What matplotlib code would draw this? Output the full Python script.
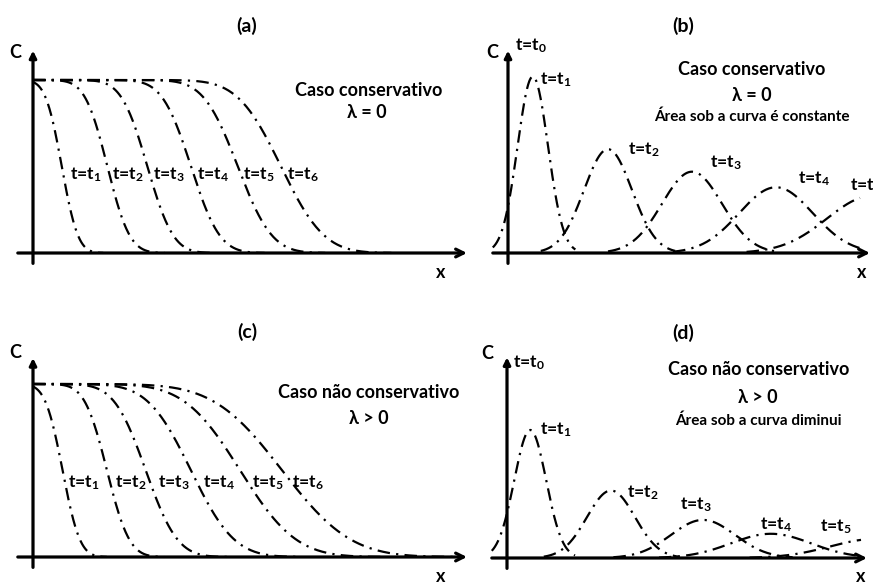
#!/usr/bin/env python3
"""
Concentration profiles C(x) at successive times: step input (a, c) and
pulse input (b, d), conservative (lambda = 0) and non-conservative (lambda > 0).
"""

import math

import numpy as np
import matplotlib.pyplot as plt

# x in units of 40 px of the original drawing, C relative to the inlet value
# (a) step input, conservative: front position and spread of each profile
A_FRONT = [0.72, 1.86, 2.86, 3.95, 5.12, 6.2]
A_SPREAD = [0.45, 0.62, 0.72, 0.80, 0.95, 1.20]
# (c) step input, non-conservative
C_FRONT = [0.74, 1.85, 2.82, 3.95, 5.18, 6.23]
C_SPREAD = [0.48, 0.62, 0.88, 1.20, 1.55, 1.90]
# (b) pulse, conservative: peak position, peak height, spread
B_PEAK_X = [0.62, 2.5, 4.6, 6.7, 9.1]
B_PEAK_C = [1.02, 0.60, 0.47, 0.38, 0.33]
B_SIGMA = [0.38, 0.60, 0.75, 0.92, 1.12]
# (d) pulse, non-conservative
D_PEAK_X = [0.58, 2.6, 4.9, 6.6, 9.2]
D_PEAK_C = [0.74, 0.39, 0.22, 0.14, 0.11]
D_SIGMA = [0.40, 0.60, 0.80, 1.00, 1.12]

STEP_LABELS = ['t=t$_{1}$', 't=t$_{2}$', 't=t$_{3}$', 't=t$_{4}$', 't=t$_{5}$', 't=t$_{6}$']
PULSE_LABELS = ['t=t$_{1}$', 't=t$_{2}$', 't=t$_{3}$', 't=t$_{4}$', 't=t$_{5}$']

# label anchors (left edge, vertical centre)
A_LABEL_X = [0.93, 1.97, 3.0, 4.1, 5.25, 6.35]
A_LABEL_Y = 0.45
C_LABEL_X = [0.88, 2.05, 3.13, 4.25, 5.47, 6.47]
C_LABEL_Y = 0.43
B_LABEL_XY = [(0.8, 1.0), (3.0, 0.6), (5.05, 0.52), (7.25, 0.43), (8.55, 0.39)]
D_LABEL_XY = [(0.83, 0.74), (3.0, 0.38), (4.33, 0.31), (6.33, 0.19), (7.83, 0.18)]

W, H = 873, 585
PX_X, PX_Y = 40.0, 173.0
FONT = 'Lato'

plt.rcParams['font.family'] = [FONT, 'DejaVu Sans']
plt.rcParams['font.weight'] = 'bold'
plt.rcParams['mathtext.fontset'] = 'custom'
plt.rcParams['mathtext.rm'] = 'Lato:bold'
plt.rcParams['mathtext.it'] = 'Lato:bold'
plt.rcParams['mathtext.bf'] = 'Lato:bold'
plt.rcParams['lines.scale_dashes'] = False

DASH = (0, (9, 4.5, 1.6, 4.5))
LABEL_SIZE = 12.5
TEXT_SIZE = 13
NOTE_SIZE = 11
erfc = np.vectorize(math.erfc)


def panel_axes(fig, box, origin):
    """Axes covering a pixel box, with data origin at the given pixel."""
    left, top, right, bottom = box
    ox, oy = origin
    ax = fig.add_axes([left / W, 1 - bottom / H, (right - left) / W, (bottom - top) / H])
    ax.set_xlim((left - ox) / PX_X, (right - ox) / PX_X)
    ax.set_ylim((oy - bottom) / PX_Y, (oy - top) / PX_Y)
    ax.axis('off')
    return ax


def draw_axes(ax, x_end, y_end):
    ax.annotate('', xy=(x_end, 0), xytext=(-0.38, 0),
                arrowprops=dict(arrowstyle='->', lw=2.3, color='black',
                                mutation_scale=14, shrinkA=0, shrinkB=0))
    ax.annotate('', xy=(0, y_end), xytext=(0, -0.06),
                arrowprops=dict(arrowstyle='-|>', lw=2.3, color='black',
                                mutation_scale=10, shrinkA=0, shrinkB=0))


def draw_steps(ax, fronts, spreads):
    for x0, w in zip(fronts, spreads):
        x = np.linspace(0, x0 + 2.3 * w, 300)
        ax.plot(x, 0.5 * erfc((x - x0) / w), color='black', lw=1.6, linestyle=DASH)


def draw_pulses(ax, peaks_x, peaks_c, sigmas, x_max):
    for mu, h, s in zip(peaks_x, peaks_c, sigmas):
        x = np.linspace(max(-0.38, mu - 2.8 * s), min(x_max, mu + 2.8 * s), 300)
        ax.plot(x, h * np.exp(-(x - mu) ** 2 / (2 * s ** 2)),
                color='black', lw=1.6, linestyle=DASH)


def main():
    fig = plt.figure(figsize=(W / 100, H / 100), dpi=100)

    ax_a = panel_axes(fig, (0, 0, 470, 292), (33, 253))
    ax_b = panel_axes(fig, (470, 0, 873, 292), (508, 253))
    ax_c = panel_axes(fig, (0, 292, 470, 585), (33, 557))
    ax_d = panel_axes(fig, (470, 292, 873, 585), (507, 558))

    # (a)
    draw_axes(ax_a, 10.85, 1.17)
    draw_steps(ax_a, A_FRONT, A_SPREAD)
    for lx, lab in zip(A_LABEL_X, STEP_LABELS):
        ax_a.text(lx, A_LABEL_Y, lab, fontsize=LABEL_SIZE, va='center', ha='left')
    ax_a.text(5.35, 1.31, '(a)', fontsize=14, ha='center', va='center')
    ax_a.text(-0.45, 1.16, 'C', fontsize=TEXT_SIZE, ha='center', va='center')
    ax_a.text(10.2, -0.11, 'x', fontsize=TEXT_SIZE, ha='center', va='center')
    ax_a.text(8.4, 0.94, 'Caso conservativo', fontsize=TEXT_SIZE, ha='center', va='center')
    ax_a.text(8.35, 0.81, 'λ = 0', fontsize=TEXT_SIZE, ha='center', va='center')

    # (b)
    draw_axes(ax_b, 9.05, 1.17)
    draw_pulses(ax_b, B_PEAK_X, B_PEAK_C, B_SIGMA, 8.8)
    for (lx, ly), lab in zip(B_LABEL_XY, PULSE_LABELS):
        ax_b.text(lx, ly, lab, fontsize=LABEL_SIZE, va='center', ha='left')
    ax_b.text(0.18, 1.2, 't=t$_{0}$', fontsize=LABEL_SIZE, va='center', ha='left')
    ax_b.text(4.38, 1.31, '(b)', fontsize=14, ha='center', va='center')
    ax_b.text(-0.4, 1.16, 'C', fontsize=TEXT_SIZE, ha='center', va='center')
    ax_b.text(8.85, -0.11, 'x', fontsize=TEXT_SIZE, ha='center', va='center')
    ax_b.text(6.1, 1.06, 'Caso conservativo', fontsize=TEXT_SIZE, ha='center', va='center')
    ax_b.text(6.1, 0.91, 'λ = 0', fontsize=TEXT_SIZE, ha='center', va='center')
    ax_b.text(6.1, 0.785, 'Área sob a curva é constante', fontsize=NOTE_SIZE,
              ha='center', va='center')

    # (c)
    draw_axes(ax_c, 10.85, 1.15)
    draw_steps(ax_c, C_FRONT, C_SPREAD)
    for lx, lab in zip(C_LABEL_X, STEP_LABELS):
        ax_c.text(lx, C_LABEL_Y, lab, fontsize=LABEL_SIZE, va='center', ha='left')
    ax_c.text(5.35, 1.30, '(c)', fontsize=14, ha='center', va='center')
    ax_c.text(-0.45, 1.18, 'C', fontsize=TEXT_SIZE, ha='center', va='center')
    ax_c.text(10.2, -0.115, 'x', fontsize=TEXT_SIZE, ha='center', va='center')
    ax_c.text(8.4, 0.95, 'Caso não conservativo', fontsize=TEXT_SIZE, ha='center', va='center')
    ax_c.text(8.4, 0.80, 'λ > 0', fontsize=TEXT_SIZE, ha='center', va='center')

    # (d)
    draw_axes(ax_d, 9.0, 1.16)
    draw_pulses(ax_d, D_PEAK_X, D_PEAK_C, D_SIGMA, 8.85)
    for (lx, ly), lab in zip(D_LABEL_XY, PULSE_LABELS):
        ax_d.text(lx, ly, lab, fontsize=LABEL_SIZE, va='center', ha='left')
    ax_d.text(0.15, 1.13, 't=t$_{0}$', fontsize=LABEL_SIZE, va='center', ha='left')
    ax_d.text(4.4, 1.30, '(d)', fontsize=14, ha='center', va='center')
    ax_d.text(-0.5, 1.18, 'C', fontsize=TEXT_SIZE, ha='center', va='center')
    ax_d.text(8.83, -0.105, 'x', fontsize=TEXT_SIZE, ha='center', va='center')
    ax_d.text(6.28, 1.09, 'Caso não conservativo', fontsize=TEXT_SIZE, ha='center', va='center')
    ax_d.text(6.28, 0.93, 'λ > 0', fontsize=TEXT_SIZE, ha='center', va='center')
    ax_d.text(6.28, 0.795, 'Área sob a curva diminui', fontsize=NOTE_SIZE,
              ha='center', va='center')

    fig.savefig('out.png', dpi=100, facecolor='white')


if __name__ == "__main__":
    main()
